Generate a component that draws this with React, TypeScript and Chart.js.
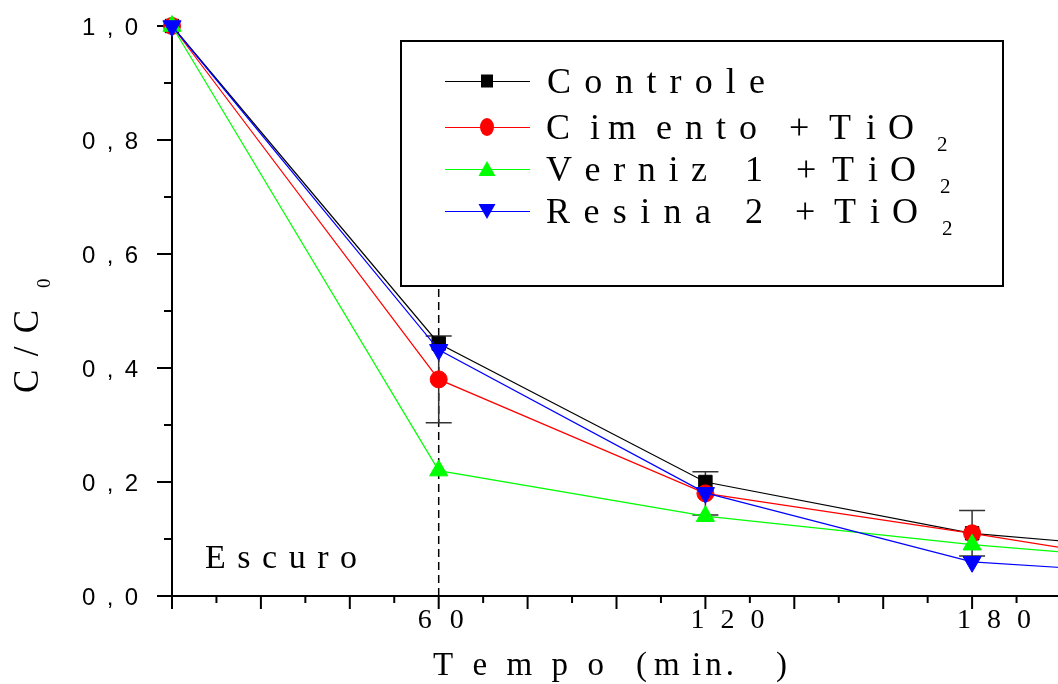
import React, { useEffect, useRef } from "react";
import { Chart, registerables } from "chart.js";

Chart.register(...registerables);

// ---- data ----
const times = [0, 60, 120, 180, 240];
const controle = [1.0, 0.443, 0.2, 0.11, 0.07];
const cimento = [1.0, 0.38, 0.18, 0.11, 0.035];
const verniz = [1.0, 0.22, 0.14, 0.09, 0.052];
const resina = [1.0, 0.432, 0.181, 0.06, 0.03];
const cimentoErr = [0, 0.076, 0.038, 0.04, 0];
const seriesNames = ["Controle", "Cimento + TiO2", "Verniz 1 + TiO2", "Resina 2 + TiO2"];
const seriesColors = ["#000000", "#ff0000", "#00ff00", "#0000ff"];
const xLabelValues = [60, 120, 180];
const xTickLabels = ["6 0", "1 2 0", "1 8 0"];
const yLabelValues = [0, 0.2, 0.4, 0.6, 0.8, 1.0];
const yTickLabels = ["0 , 0", "0 , 2", "0 , 4", "0 , 6", "0 , 8", "1 , 0"];
const xTitle = "T e m p o  ( m in . )";
const darkLabel = "E s c u r o";
const darkEndTime = 60;
const darkLineTop = 0.54;

const SERIF = '"Liberation Serif", "Times New Roman", serif';
const SANS = '"Liberation Sans", Arial, sans-serif';

function spread(ctx: CanvasRenderingContext2D, text: string, x0: number, x1: number, y: number) {
  const chars = [...text].filter((c) => c !== " ");
  const widths = chars.map((c) => ctx.measureText(c).width);
  const total = widths.reduce((a, b) => a + b, 0);
  const gap = chars.length > 1 ? (x1 - x0 - total) / (chars.length - 1) : 0;
  let x = x0;
  ctx.textAlign = "left";
  chars.forEach((c, i) => {
    ctx.fillText(c, x, y);
    x += widths[i] + gap;
  });
}

function marker(ctx: CanvasRenderingContext2D, style: string, x: number, y: number, color: string) {
  ctx.fillStyle = color;
  ctx.beginPath();
  if (style === "rect") {
    ctx.rect(x - 6, y - 6.5, 12, 13);
  } else if (style === "circle") {
    ctx.ellipse(x, y, 7, 9, 0, 0, Math.PI * 2);
  } else if (style === "up") {
    ctx.moveTo(x, y - 8);
    ctx.lineTo(x + 8.5, y + 7);
    ctx.lineTo(x - 8.5, y + 7);
    ctx.closePath();
  } else {
    ctx.moveTo(x, y + 8);
    ctx.lineTo(x + 8.5, y - 7);
    ctx.lineTo(x - 8.5, y - 7);
    ctx.closePath();
  }
  ctx.fill();
}

const decor = {
  id: "decor",
  beforeDatasetsDraw(chart: any) {
    const { ctx, scales } = chart;
    const xs = scales.x;
    const ys = scales.y;
    const x0 = xs.getPixelForValue(0);
    const y0 = ys.getPixelForValue(0);
    const yTop = ys.getPixelForValue(1);
    ctx.save();
    ctx.strokeStyle = "#000";
    ctx.lineWidth = 2;
    ctx.beginPath();
    ctx.moveTo(x0, y0 + 1);
    ctx.lineTo(x0, yTop);
    ctx.stroke();
    ctx.beginPath();
    ctx.moveTo(x0 - 1, y0);
    ctx.lineTo(chart.width, y0);
    ctx.stroke();
    for (let v = 0; v <= 200; v += 10) {
      const px = xs.getPixelForValue(v);
      const len = v % 20 === 0 ? 13 : 7;
      ctx.beginPath();
      ctx.moveTo(px, y0);
      ctx.lineTo(px, y0 + len);
      ctx.stroke();
    }
    for (let i = 0; i <= 10; i++) {
      const py = ys.getPixelForValue(i / 10);
      const len = i % 2 === 0 ? 15 : 8;
      ctx.beginPath();
      ctx.moveTo(x0 - len, py);
      ctx.lineTo(x0, py);
      ctx.stroke();
    }
    // dashed "dark" boundary
    const dx = xs.getPixelForValue(darkEndTime);
    ctx.lineWidth = 1.5;
    ctx.setLineDash([8, 5]);
    ctx.beginPath();
    ctx.moveTo(dx, y0);
    ctx.lineTo(dx, ys.getPixelForValue(darkLineTop));
    ctx.stroke();
    ctx.setLineDash([]);
    // error bars
    ctx.strokeStyle = "#333";
    ctx.lineWidth = 1.5;
    times.forEach((t, i) => {
      const e = cimentoErr[i];
      if (!e) return;
      const px = xs.getPixelForValue(t);
      const pt = ys.getPixelForValue(cimento[i] + e);
      const pb = ys.getPixelForValue(cimento[i] - e);
      ctx.beginPath();
      ctx.moveTo(px, pt);
      ctx.lineTo(px, pb);
      ctx.moveTo(px - 13, pt);
      ctx.lineTo(px + 13, pt);
      ctx.moveTo(px - 13, pb);
      ctx.lineTo(px + 13, pb);
      ctx.stroke();
    });
    ctx.restore();
  },
  afterDraw(chart: any) {
    const { ctx, scales } = chart;
    const xs = scales.x;
    const ys = scales.y;
    ctx.save();
    ctx.fillStyle = "#000";
    ctx.textBaseline = "alphabetic";
    // y tick labels
    ctx.font = `24px ${SANS}`;
    yLabelValues.forEach((v, i) => {
      const py = ys.getPixelForValue(v);
      spread(ctx, yTickLabels[i], 82, 138, py + 8.5);
    });
    // x tick labels
    ctx.font = `28px ${SERIF}`;
    xLabelValues.forEach((v, i) => {
      const px = xs.getPixelForValue(v);
      const lbl = xTickLabels[i];
      const n = lbl.replace(/ /g, "").length;
      if (n === 2) spread(ctx, lbl, px - 21, px + 25, 628);
      else spread(ctx, lbl, px - 15, px + 59, 628);
    });
    // x title
    ctx.font = `33px ${SERIF}`;
    const parts = xTitle.split("  ");
    spread(ctx, parts[0], 433, 604, 675);
    spread(ctx, "(", 636, 647, 675);
    spread(ctx, "m", 654, 680, 675);
    spread(ctx, "in .", 692, 734, 675);
    spread(ctx, ")", 776, 787, 675);
    // y title (rotated)
    ctx.save();
    ctx.translate(38, 393);
    ctx.rotate(-Math.PI / 2);
    ctx.font = `35px ${SERIF}`;
    spread(ctx, "C / C", 0, 83, 0);
    ctx.font = `19px ${SERIF}`;
    spread(ctx, "0", 105, 116, 12);
    ctx.restore();
    // dark label
    ctx.font = `34px ${SERIF}`;
    spread(ctx, darkLabel, 205, 357, 568);
    // legend box
    ctx.strokeStyle = "#000";
    ctx.lineWidth = 2;
    ctx.strokeRect(401, 41, 602, 245);
    const rows: { y: number; style: string; segs: [string, number, number][]; sub: number | null }[] = [
      { y: 81, style: "rect", segs: [["C o n t r o l e", 547, 765]], sub: null },
      { y: 127, style: "circle", segs: [["C", 546, 568], ["im", 590, 636], ["e n t o", 656, 757], ["+", 789, 807], ["T", 829, 847], ["iO", 866, 914]], sub: 937 },
      { y: 169, style: "up", segs: [["V e r n iz", 546, 707], ["1", 745, 754], ["+", 796, 812], ["T", 832, 849], ["iO", 868, 916]], sub: 940 },
      { y: 211, style: "down", segs: [["R e s in a", 546, 711], ["2", 745, 759], ["+", 795, 812], ["T", 834, 851], ["iO", 870, 918]], sub: 942 },
    ];
    rows.forEach((r, i) => {
      const col = seriesColors[i];
      ctx.strokeStyle = col;
      ctx.lineWidth = 1;
      ctx.beginPath();
      ctx.moveTo(445, r.y + 0.5);
      ctx.lineTo(530, r.y + 0.5);
      ctx.stroke();
      marker(ctx, r.style, 487, r.y, col);
      ctx.fillStyle = "#000";
      ctx.font = `36px ${SERIF}`;
      r.segs.forEach(([t, a, b]) => spread(ctx, t, a, b, r.y + 12));
      if (r.sub !== null) {
        ctx.font = `21px ${SERIF}`;
        spread(ctx, "2", r.sub, r.sub + 9, r.y + 24);
      }
    });
    ctx.restore();
  },
};

export default function App() {
  const ref = useRef<HTMLCanvasElement>(null);
  useEffect(() => {
    if (!ref.current) return;
    const mk = (vals: number[]) => times.map((t, i) => ({ x: t, y: vals[i] }));
    const all = [controle, cimento, verniz, resina];
    const styles = ["rect", "circle", "triangle", "triangle"];
    const radii = [9.5, 8.5, 10.5, 10.5];
    const rots = [0, 0, 0, 180];
    const orders = [4, 3, 2, 1];
    const chart = new Chart(ref.current, {
      type: "scatter",
      data: {
        datasets: all.map((vals, i) => ({
          label: seriesNames[i],
          data: mk(vals),
          showLine: true,
          borderColor: seriesColors[i],
          backgroundColor: seriesColors[i],
          borderWidth: 1.2,
          pointStyle: styles[i] as any,
          pointRadius: radii[i],
          pointRotation: rots[i],
          pointBackgroundColor: seriesColors[i],
          pointBorderColor: seriesColors[i],
          pointBorderWidth: 1,
          clip: false as any,
          order: orders[i],
        })),
      },
      options: {
        responsive: false,
        animation: false,
        devicePixelRatio: 1,
        layout: { autoPadding: false, padding: { left: 172, right: 39, top: 26, bottom: 88 } },
        scales: {
          x: { type: "linear", min: 0, max: 200, display: false },
          y: { type: "linear", min: 0, max: 1, display: false },
        },
        plugins: { legend: { display: false }, tooltip: { enabled: false } },
        events: [],
      },
      plugins: [decor],
    });
    return () => chart.destroy();
  }, []);
  return (
    <div style={{ position: "fixed", left: 0, top: 0, width: 1058, height: 684, overflow: "hidden", background: "#fff" }}>
      <canvas ref={ref} width={1100} height={684} style={{ display: "block", width: 1100, height: 684 }} />
    </div>
  );
}
